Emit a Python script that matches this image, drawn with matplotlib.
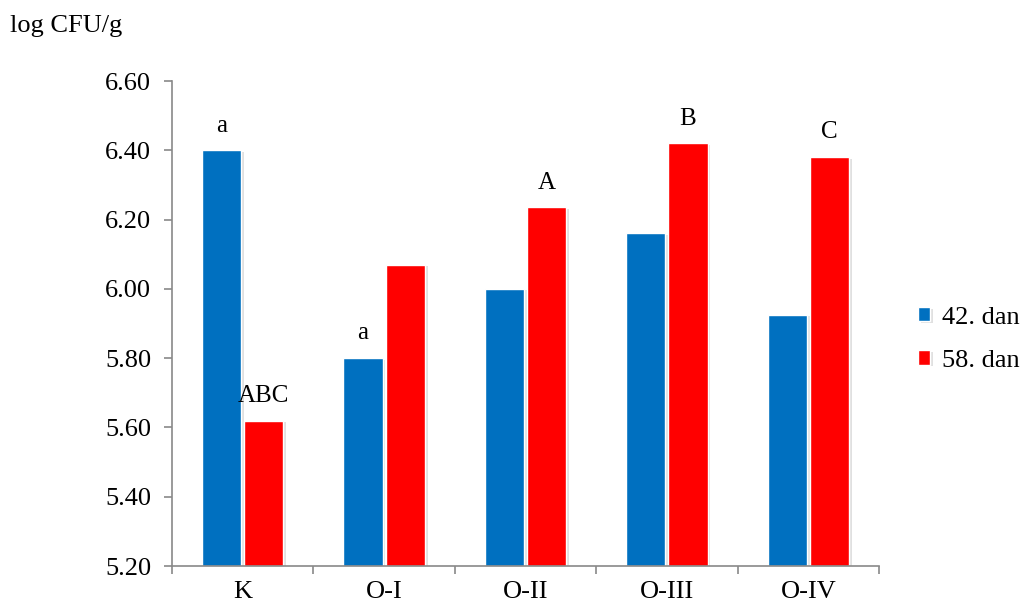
import numpy as np
import matplotlib.pyplot as plt
import matplotlib.patheffects as pe

plt.rcParams['font.family'] = ['Liberation Serif', 'DejaVu Serif']

# grupe i vrijednosti (log CFU/g)
grupe = ['K', 'O-I', 'O-II', 'O-III', 'O-IV']
dan42 = [6.40, 5.80, 6.00, 6.16, 5.925]
dan58 = [5.62, 6.07, 6.235, 6.42, 6.38]
oznake42 = ['a', 'a', '', '', '']
oznake58 = ['ABC', '', 'A', 'B', 'C']

plava = '#0070C0'
crvena = '#FF0000'
siva = '#898989'

fig = plt.figure(figsize=(10.21, 6.06), dpi=100)
ax = fig.add_axes([0.1685, 0.066, 0.6925, 0.8003])

x = np.arange(len(grupe))
w = 0.277
sjena = [pe.SimplePatchShadow(offset=(2, -1), shadow_rgbFace='#000000', alpha=0.12), pe.Normal()]
b1 = ax.bar(x - 0.149, np.array(dan42) - 5.2, w, bottom=5.2, color=plava,
            edgecolor='white', linewidth=1, label='42. dan', path_effects=sjena)
b2 = ax.bar(x + 0.149, np.array(dan58) - 5.2, w, bottom=5.2, color=crvena,
            edgecolor='white', linewidth=1, label='58. dan', path_effects=sjena)

# slova iznad stupaca
for i in range(len(grupe)):
    if oznake42[i]:
        ax.annotate(oznake42[i], (x[i] - 0.149, dan42[i]), xytext=(0, 13.5),
                    textcoords='offset points', ha='center', va='baseline', fontsize=18)
    if oznake58[i]:
        ax.annotate(oznake58[i], (x[i] + 0.149, dan58[i]), xytext=(0, 13.5),
                    textcoords='offset points', ha='center', va='baseline', fontsize=18)

ax.set_xlim(-0.5, len(grupe) - 0.5)
ax.set_ylim(5.2, 6.6)
ax.set_yticks(np.arange(5.2, 6.61, 0.2))
ax.set_yticklabels(['%.2f' % v for v in np.arange(5.2, 6.61, 0.2)], fontsize=19)
ax.set_xticks(x)
ax.set_xticklabels(grupe, fontsize=19)
ax.set_xticks(np.arange(-0.5, len(grupe)), minor=True)
ax.tick_params(axis='x', which='major', length=0, pad=11)
ax.tick_params(axis='x', which='minor', length=6, color=siva, width=1.2)
ax.tick_params(axis='y', length=6, color=siva, width=1.2, pad=9)

for s in ['top', 'right']:
    ax.spines[s].set_visible(False)
for s in ['left', 'bottom']:
    ax.spines[s].set_color(siva)
    ax.spines[s].set_linewidth(1.2)

fig.text(0.01, 0.957, 'log CFU/g', fontsize=19, ha='left', va='center')

fig.legend(handles=[b1, b2], loc='center left', bbox_to_anchor=(0.876, 0.44),
           frameon=False, fontsize=19, handlelength=0.45, handleheight=0.45,
           handletextpad=0.45, labelspacing=0.8)

fig.savefig('out.png', dpi=100)
